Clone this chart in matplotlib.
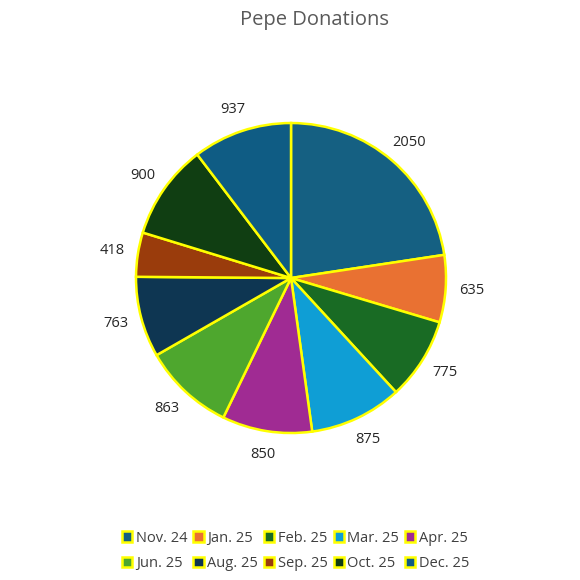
import matplotlib
matplotlib.use("Agg")
from matplotlib import pyplot as plt
from matplotlib.patches import Patch
import numpy as np

# data
months = ["Nov. 24", "Jan. 25", "Feb. 25", "Mar. 25", "Apr. 25",
          "Jun. 25", "Aug. 25", "Sep. 25", "Oct. 25", "Dec. 25"]
donations = [2050, 635, 775, 875, 850, 863, 763, 418, 900, 937]
colours = ["#156082", "#e97132", "#196b24", "#0f9ed5", "#a02b93",
           "#4ea72e", "#0e3652", "#9a3c0c", "#103e12", "#0f5c84"]

plt.rcParams["font.family"] = ["Open Sans", "DejaVu Sans"]

fig = plt.figure(figsize=(5.8, 5.8), dpi=100)
fig.patch.set_facecolor("white")

# pie centre ~(291, 278) px, radius ~155 px
ax = fig.add_axes([0.2345, 0.2534, 0.5345, 0.5345])
wedges, _ = ax.pie(donations, colors=colours, startangle=90, counterclock=False,
                   wedgeprops=dict(edgecolor="#ffff00", linewidth=1.8))
ax.set_xlim(-1, 1)
ax.set_ylim(-1, 1)
ax.set_aspect("equal")
ax.axis("off")

# value labels outside each slice
for w, v in zip(wedges, donations):
    mid = np.deg2rad((w.theta1 + w.theta2) / 2)
    ax.text(1.17 * np.cos(mid), 1.15 * np.sin(mid), str(v),
            ha="center", va="center", fontsize=10.5, color="#262626", clip_on=False)

fig.text(0.542, 0.965, "Pepe Donations", ha="center", va="center",
         fontsize=14.5, color="#595959")

# legend is filled row by row in the reference; matplotlib fills by column
order = [0, 5, 1, 6, 2, 7, 3, 8, 4, 9]
handles = [Patch(facecolor=colours[i], edgecolor="#ffff00", linewidth=1.8) for i in order]
labels = [months[i] for i in order]
fig.legend(handles, labels, loc="center", bbox_to_anchor=(0.51, 0.0505), ncol=5,
           frameon=False, fontsize=10.5, labelcolor="#404040",
           handlelength=0.7, handleheight=0.7, handletextpad=0.25,
           columnspacing=0.4, labelspacing=0.7)

fig.savefig("out.png", dpi=100, facecolor="white")
